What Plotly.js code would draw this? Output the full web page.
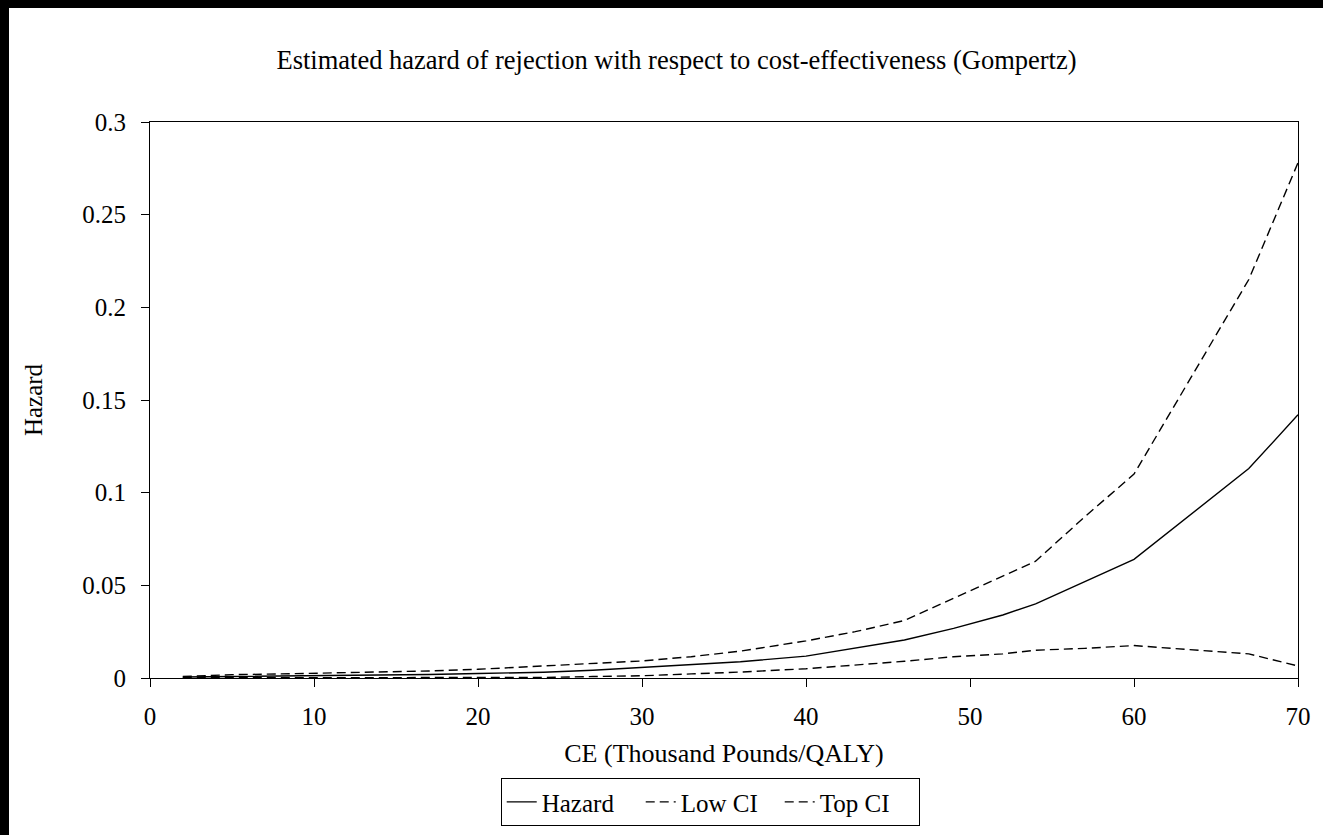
<!DOCTYPE html>
<html>
<head>
<meta charset="utf-8">
<script src="https://cdn.plot.ly/plotly-3.0.1.min.js"></script>
<style>
  html, body { margin: 0; padding: 0; background: #000; width: 1323px; height: 835px; overflow: hidden; }
  #chart { position: absolute; left: 9px; top: 8px; width: 1314px; height: 827px; background: #fff; }
</style>
</head>
<body>
<div id="chart"></div>
<script>
const ce = [2, 5, 8, 11, 14, 17, 20, 24, 27, 30, 33, 36, 40, 43, 46, 49, 52, 54, 57, 60, 67, 70];
const hazard = [0.0005, 0.0007, 0.0009, 0.0012, 0.0015, 0.0019, 0.0024, 0.0031, 0.0042, 0.0058, 0.0070, 0.0088, 0.0118, 0.0162, 0.0205, 0.0268, 0.034, 0.040, 0.052, 0.064, 0.113, 0.142];
const lowCI = [0.0001, 0.0001, 0.0001, 0.0001, 0.0001, 0.0001, 0.0001, 0.0003, 0.0008, 0.0012, 0.0022, 0.0032, 0.005, 0.0068, 0.009, 0.0115, 0.013, 0.015, 0.016, 0.0175, 0.013, 0.0065];
const topCI = [0.0008, 0.0018, 0.0022, 0.0027, 0.0032, 0.0038, 0.0047, 0.0065, 0.0078, 0.0092, 0.0115, 0.0145, 0.020, 0.025, 0.031, 0.043, 0.055, 0.063, 0.087, 0.110, 0.215, 0.278];
const seriesNames = ["Hazard", "Low CI", "Top CI"];
const xTicks = [0, 10, 20, 30, 40, 50, 60, 70];
const yTicks = [0, 0.05, 0.1, 0.15, 0.2, 0.25, 0.3];
const yTickText = ["0", "0.05", "0.1", "0.15", "0.2", "0.25", "0.3"];

const font = "Liberation Serif, Times New Roman, serif";
const traces = [
  {x: ce, y: hazard, name: seriesNames[0], mode: "lines", line: {color: "#000", width: 1.4}},
  {x: ce, y: lowCI, name: seriesNames[1], mode: "lines", line: {color: "#000", width: 1.4, dash: "9px,5px"}},
  {x: ce, y: topCI, name: seriesNames[2], mode: "lines", line: {color: "#000", width: 1.4, dash: "9px,5px"}}
];
const layout = {
  width: 1314, height: 827,
  paper_bgcolor: "#fff", plot_bgcolor: "#fff",
  margin: {l: 141, r: 25, t: 114, b: 157, autoexpand: false},
  font: {family: font, color: "#000", size: 25},
  title: {text: "Estimated hazard of rejection with respect to cost-effectiveness (Gompertz)", font: {family: font, size: 26.5, color: "#000"}, x: 0.508, xanchor: "center", y: 0.9375, yanchor: "middle"},
  xaxis: {
    range: [0, 70], tickvals: xTicks, ticktext: xTicks.map(String),
    ticks: "outside", ticklen: 8, tickcolor: "#000", tickwidth: 1,
    ticklabelstandoff: 8,
    showline: true, linecolor: "#000", linewidth: 1, mirror: true,
    showgrid: false, zeroline: false,
    tickfont: {family: font, size: 25, color: "#000"},
    title: {text: "CE (Thousand Pounds/QALY)", font: {family: font, size: 26, color: "#000"}, standoff: 14}
  },
  yaxis: {
    range: [0, 0.3], tickvals: yTicks, ticktext: yTickText,
    ticks: "outside", ticklen: 8, tickcolor: "#000", tickwidth: 1,
    ticklabelstandoff: 10,
    showline: true, linecolor: "#000", linewidth: 1, mirror: true,
    showgrid: false, zeroline: false,
    tickfont: {family: font, size: 25, color: "#000"},
    title: {text: "Hazard", font: {family: font, size: 25, color: "#000"}, standoff: 32}
  },
  showlegend: true,
  legend: {
    orientation: "h", x: 0.488, xanchor: "center", y: -0.18, yanchor: "top",
    bordercolor: "#000", borderwidth: 1, bgcolor: "#fff",
    font: {family: font, size: 25, color: "#000"},
    entrywidth: 94, tracegroupgap: 0
  }
};
Plotly.newPlot("chart", traces, layout, {displayModeBar: false, staticPlot: true});
</script>
</body>
</html>
